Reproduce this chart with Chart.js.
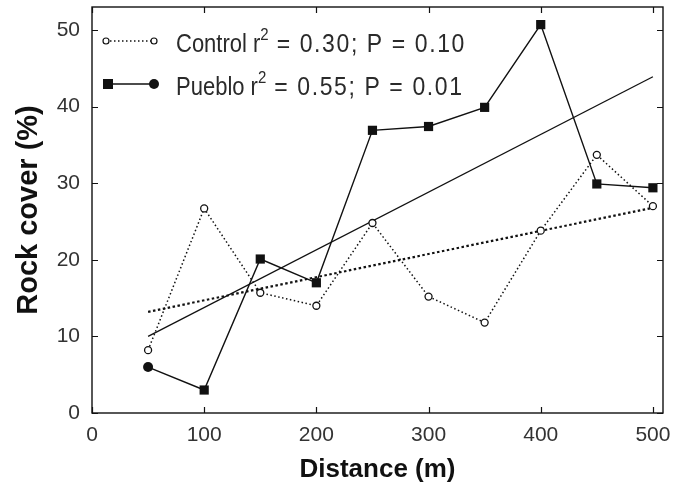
<!DOCTYPE html>
<html>
<head>
<meta charset="utf-8">
<script src="https://cdn.jsdelivr.net/npm/chart.js@4/dist/chart.umd.min.js"></script>
<style>
  html, body { margin: 0; padding: 0; background: #fff; }
  #wrap { width: 673px; height: 497px; }
</style>
</head>
<body>
<div id="wrap"><canvas id="chart" width="673" height="497"></canvas></div>
<script>
// ── Data ──────────────────────────────────────────────────────────────────
const distances    = [50, 100, 150, 200, 250, 300, 350, 400, 450, 500];
const controlCover = [8.2, 26.7, 15.7, 14.0, 24.8, 15.2, 11.8, 23.8, 33.7, 27.0];
const puebloCover  = [6.0, 3.0, 20.1, 17.0, 36.9, 37.4, 39.9, 50.7, 29.9, 29.4];

// Regression lines (ends)
const trendDistances = [50, 500];
const controlTrend   = [13.2, 26.8];
const puebloTrend    = [10.0, 43.9];

const xTickValues = [0, 100, 200, 300, 400, 500];
const yTickValues = [0, 10, 20, 30, 40, 50];

const legendNames = ['Control', 'Pueblo'];
const legendStats = [' = 0.30; P = 0.10', ' = 0.55; P = 0.01'];

const FONT = "'Liberation Sans', Arial, sans-serif";
const INK = '#111';

const toPoints = (xs, ys) => xs.map((x, i) => ({ x, y: ys[i] }));

// ── Frame with inward ticks ───────────────────────────────────────────────
const framePlugin = {
    id: 'frame',
    afterDraw(chart) {
        const { ctx, chartArea: a, scales } = chart;
        const len = 6;
        ctx.save();
        ctx.strokeStyle = INK;
        ctx.lineWidth = 1.4;
        ctx.strokeRect(a.left, a.top, a.right - a.left, a.bottom - a.top);
        ctx.lineWidth = 1.2;
        ctx.beginPath();
        xTickValues.forEach(v => {
            const px = Math.round(scales.x.getPixelForValue(v)) + 0.5;
            ctx.moveTo(px, a.bottom); ctx.lineTo(px, a.bottom - len);
            ctx.moveTo(px, a.top);    ctx.lineTo(px, a.top + len);
        });
        yTickValues.forEach(v => {
            const py = Math.round(scales.y.getPixelForValue(v)) + 0.5;
            ctx.moveTo(a.left, py);  ctx.lineTo(a.left + len, py);
            ctx.moveTo(a.right, py); ctx.lineTo(a.right - len, py);
        });
        ctx.stroke();
        ctx.restore();
    },
};

// ── Legend drawn in the plot (line sample with markers at both ends) ─────
// text is slightly stretched vertically like the scanned original
function stretchedText(ctx, text, x, y, size, spacing) {
    ctx.save();
    ctx.font = `${size}px ${FONT}`;
    ctx.letterSpacing = spacing + 'px';
    ctx.translate(x, y);
    ctx.scale(1, 1.16);
    ctx.fillText(text, 0, 0);
    const w = ctx.measureText(text).width;
    ctx.restore();
    return w;
}

const legendPlugin = {
    id: 'inlineLegend',
    afterDatasetsDraw(chart) {
        const { ctx } = chart;
        const rows = [
            { y: 41, base: 52, x0: 106, x1: 154 },
            { y: 84, base: 95, x0: 108, x1: 154 },
        ];
        ctx.save();
        ctx.strokeStyle = INK;
        ctx.fillStyle = INK;

        // Control: dotted line, open circles
        let r = rows[0];
        ctx.lineWidth = 1.5;
        ctx.setLineDash([1.5, 2.5]);
        ctx.beginPath(); ctx.moveTo(r.x0, r.y); ctx.lineTo(r.x1, r.y); ctx.stroke();
        ctx.setLineDash([]);
        ctx.lineWidth = 1.2;
        [r.x0, r.x1].forEach(x => {
            ctx.beginPath(); ctx.arc(x, r.y, 3, 0, Math.PI * 2);
            ctx.fillStyle = '#fff'; ctx.fill(); ctx.stroke();
        });

        // Pueblo: solid line, filled square and circle
        r = rows[1];
        ctx.fillStyle = INK;
        ctx.lineWidth = 1.4;
        ctx.beginPath(); ctx.moveTo(r.x0, r.y); ctx.lineTo(r.x1, r.y); ctx.stroke();
        ctx.fillRect(r.x0 - 5, r.y - 5, 10, 10);
        ctx.beginPath(); ctx.arc(r.x1, r.y, 5, 0, Math.PI * 2); ctx.fill();

        // Texts
        ctx.fillStyle = '#2a2a2a';
        ctx.textBaseline = 'alphabetic';
        rows.forEach((row, i) => {
            let x = 176;
            x += stretchedText(ctx, legendNames[i] + ' r', x, row.base, 22, 0);
            x += stretchedText(ctx, '2', x, row.base - 12, 15, 0);
            stretchedText(ctx, legendStats[i], x, row.base, 23, 1.6);
        });
        ctx.restore();
    },
};

new Chart(document.getElementById('chart'), {
    type: 'line',
    data: {
        datasets: [
            {
                label: 'Control',
                data: toPoints(distances, controlCover),
                borderColor: INK,
                borderWidth: 1.5,
                borderDash: [1.5, 2.5],
                pointStyle: 'circle',
                pointRadius: 3.5,
                pointBackgroundColor: '#fff',
                pointBorderColor: INK,
                pointBorderWidth: 1.3,
                tension: 0,
                fill: false,
            },
            {
                label: 'Pueblo',
                data: toPoints(distances, puebloCover),
                borderColor: INK,
                borderWidth: 1.4,
                pointStyle: distances.map((d, i) => i === 0 ? 'circle' : 'rect'),
                pointRadius: distances.map((d, i) => i === 0 ? 5 : 6.5),
                pointBackgroundColor: INK,
                pointBorderColor: INK,
                pointBorderWidth: 0,
                tension: 0,
                fill: false,
            },
            {
                label: 'Control trend',
                data: toPoints(trendDistances, controlTrend),
                borderColor: INK,
                borderWidth: 2.2,
                borderDash: [2.5, 2.5],
                pointRadius: 0,
                fill: false,
            },
            {
                label: 'Pueblo trend',
                data: toPoints(trendDistances, puebloTrend),
                borderColor: INK,
                borderWidth: 1.3,
                pointRadius: 0,
                fill: false,
            },
        ],
    },
    options: {
        responsive: false,
        animation: false,
        layout: { autoPadding: false, padding: { top: 7, right: 10, left: 0, bottom: 0 } },
        plugins: {
            legend: { display: false },
            tooltip: { enabled: false },
        },
        scales: {
            x: {
                type: 'linear',
                min: 0,
                max: 509,
                afterBuildTicks(scale) { scale.ticks = xTickValues.map(value => ({ value })); },
                afterFit(scale) {
                    scale.height = 84;
                    scale.paddingLeft = 0;
                    scale.paddingRight = 0;
                },
                grid: { display: false, drawTicks: false },
                border: { display: false },
                ticks: {
                    padding: 10,
                    color: '#333',
                    font: { family: FONT, size: 21 },
                    maxRotation: 0,
                },
                title: {
                    display: true,
                    text: 'Distance (m)',
                    color: INK,
                    font: { family: FONT, size: 26, weight: 'bold' },
                    padding: { top: 2, bottom: 12 },
                },
            },
            y: {
                min: 0,
                max: 53,
                afterBuildTicks(scale) { scale.ticks = yTickValues.map(value => ({ value })); },
                afterFit(scale) {
                    scale.width = 92;
                    scale.paddingTop = 0;
                    scale.paddingBottom = 0;
                },
                grid: { display: false, drawTicks: false },
                border: { display: false },
                ticks: {
                    padding: 12,
                    color: '#333',
                    font: { family: FONT, size: 21 },
                },
                title: {
                    display: true,
                    text: 'Rock cover (%)',
                    color: INK,
                    font: { family: FONT, size: 29, weight: 'bold' },
                    padding: { top: 12 },
                },
            },
        },
    },
    plugins: [framePlugin, legendPlugin],
});
</script>
</body>
</html>
